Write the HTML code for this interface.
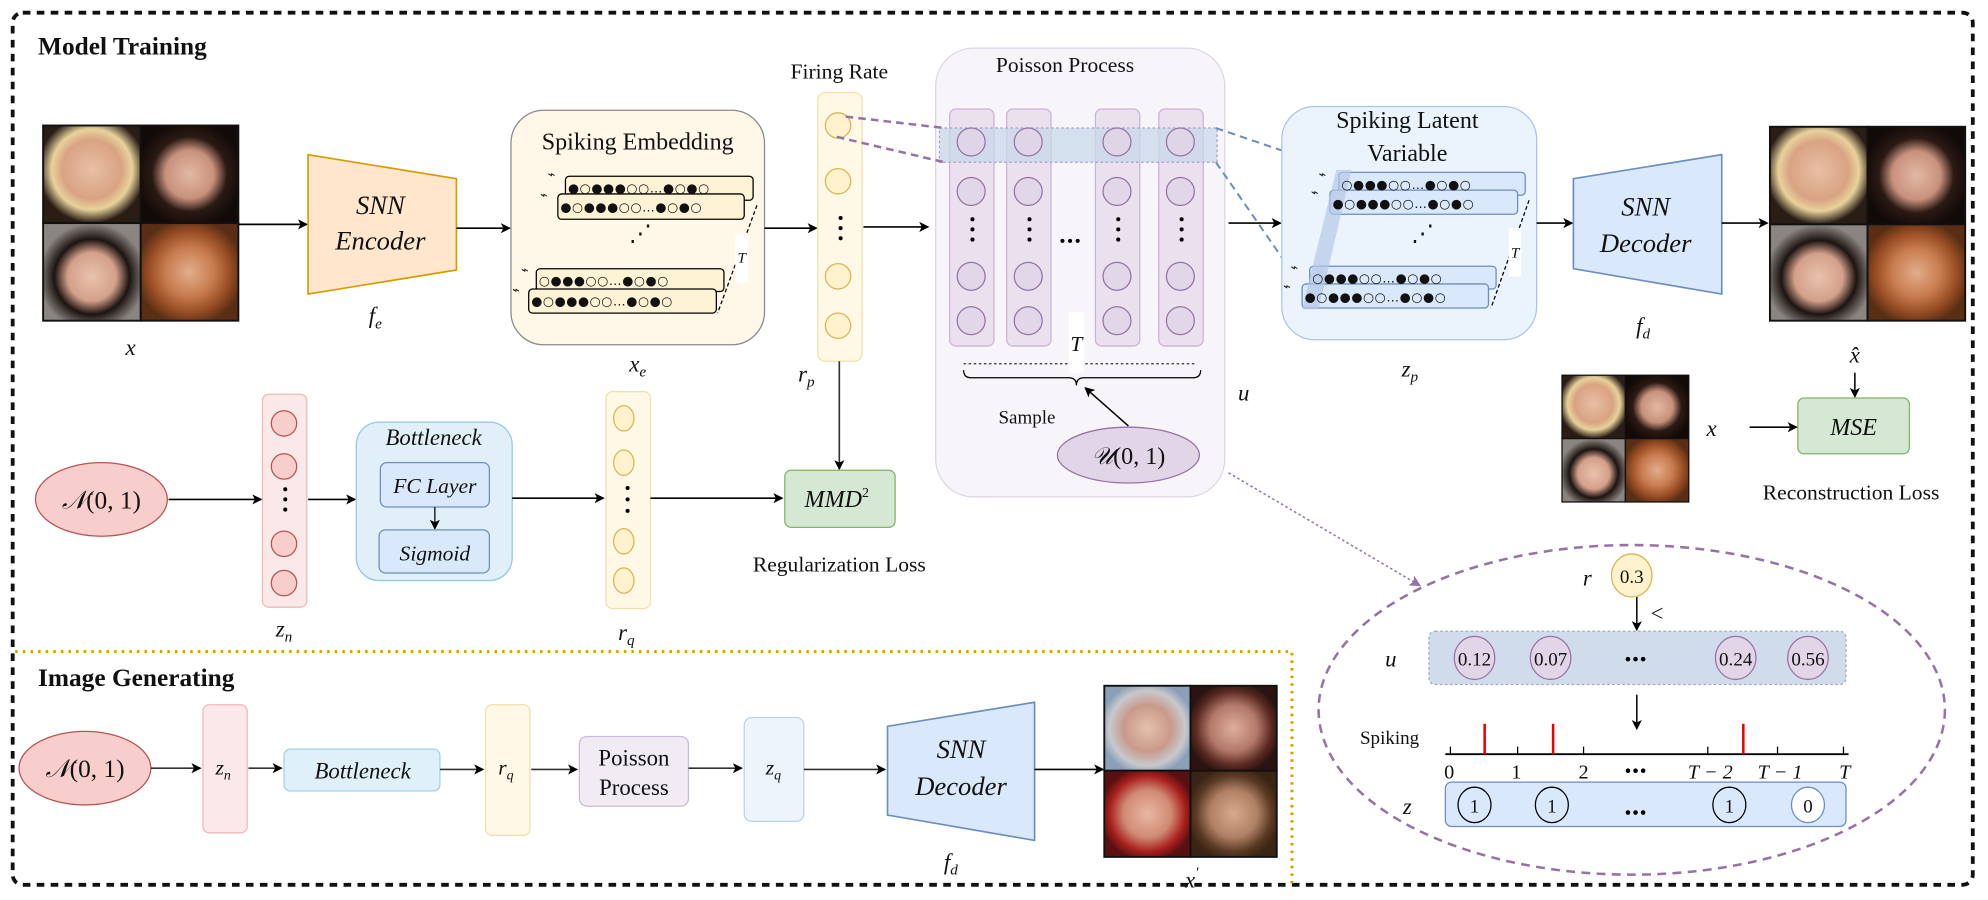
<!DOCTYPE html>
<html><head><meta charset="utf-8"><style>
html,body{margin:0;padding:0;background:#fff;}
svg{display:block;}
text{font-family:"Liberation Serif",serif;fill:#111;}
.it{font-style:italic;}
.sp{font-family:"DejaVu Sans",sans-serif;font-size:10px;letter-spacing:0.5px;}
</style></head><body>
<svg width="1988" height="900" viewBox="0 0 1568 710" preserveAspectRatio="none" xmlns="http://www.w3.org/2000/svg">
<defs>
<marker id="ar" markerWidth="8" markerHeight="8" refX="7" refY="4" orient="auto" markerUnits="userSpaceOnUse"><path d="M0,0 L8,4 L0,8 L2,4 z" fill="#000"/></marker>
<marker id="arp" markerWidth="9" markerHeight="9" refX="8" refY="4.5" orient="auto" markerUnits="userSpaceOnUse"><path d="M0,0 L9,4.5 L0,9 L2,4.5 z" fill="#9673a6"/></marker>
<radialGradient id="fA" cx="50%" cy="45%" r="55%"><stop offset="0" stop-color="#e9bfa4"/><stop offset="0.55" stop-color="#d8a383"/><stop offset="0.75" stop-color="#e8d29b"/><stop offset="1" stop-color="#2a1d16"/></radialGradient>
<radialGradient id="fB" cx="50%" cy="50%" r="55%"><stop offset="0" stop-color="#e3b8a4"/><stop offset="0.45" stop-color="#c8917c"/><stop offset="0.7" stop-color="#2b1a14"/><stop offset="1" stop-color="#120a08"/></radialGradient>
<radialGradient id="fC" cx="50%" cy="55%" r="55%"><stop offset="0" stop-color="#e9c2ad"/><stop offset="0.45" stop-color="#d4a08a"/><stop offset="0.7" stop-color="#1d1411"/><stop offset="1" stop-color="#8a8580"/></radialGradient>
<radialGradient id="fD" cx="50%" cy="50%" r="55%"><stop offset="0" stop-color="#e2ad8b"/><stop offset="0.45" stop-color="#c97c4f"/><stop offset="0.75" stop-color="#9a4e25"/><stop offset="1" stop-color="#5a2e14"/></radialGradient>
<radialGradient id="fE" cx="50%" cy="50%" r="55%"><stop offset="0" stop-color="#e5c0ad"/><stop offset="0.5" stop-color="#c99a8a"/><stop offset="0.8" stop-color="#c8c8cc"/><stop offset="1" stop-color="#8aa0b8"/></radialGradient>
<radialGradient id="fF" cx="50%" cy="50%" r="55%"><stop offset="0" stop-color="#dfae9c"/><stop offset="0.5" stop-color="#b3786a"/><stop offset="0.8" stop-color="#5a2a22"/><stop offset="1" stop-color="#2a1310"/></radialGradient>
<radialGradient id="fG" cx="50%" cy="50%" r="55%"><stop offset="0" stop-color="#e9b8a2"/><stop offset="0.5" stop-color="#d08a74"/><stop offset="0.8" stop-color="#a8201e"/><stop offset="1" stop-color="#5a1010"/></radialGradient>
<radialGradient id="fH" cx="50%" cy="50%" r="55%"><stop offset="0" stop-color="#d8aa8c"/><stop offset="0.5" stop-color="#b08065"/><stop offset="0.8" stop-color="#5a3a24"/><stop offset="1" stop-color="#3a2414"/></radialGradient>
</defs>

<rect x="10" y="10" width="1546" height="688" rx="8" fill="none" stroke="#111" stroke-width="3" stroke-dasharray="6,5"/>
<text x="30" y="43" font-size="20" font-weight="bold">Model Training</text>

<g stroke="#111" stroke-width="1.5">
<rect x="34" y="99" width="77" height="77" fill="url(#fA)"/>
<rect x="111" y="99" width="77" height="77" fill="url(#fB)"/>
<rect x="34" y="176" width="77" height="77" fill="url(#fC)"/>
<rect x="111" y="176" width="77" height="77" fill="url(#fD)"/>
</g>
<text x="103" y="280" font-size="18" class="it" text-anchor="middle">x</text>
<line x1="188" y1="177" x2="242" y2="177" stroke="#000" stroke-width="1.3" marker-end="url(#ar)"/>

<polygon points="243,122 360,141 360,213 243,232" fill="#ffe6cc" stroke="#d79b00" stroke-width="1.3"/>
<text x="300" y="169" font-size="21" class="it" text-anchor="middle">SNN</text>
<text x="300" y="197" font-size="21" class="it" text-anchor="middle">Encoder</text>
<text x="296" y="255" font-size="18" class="it" text-anchor="middle">f<tspan font-size="12" dy="4">e</tspan></text>
<line x1="360" y1="180" x2="402" y2="180" stroke="#000" stroke-width="1.3" marker-end="url(#ar)"/>

<rect x="403" y="87" width="200" height="185" rx="26" fill="#fff8e8" stroke="#8a8a8a" stroke-width="1"/>
<text x="503" y="118" font-size="19" text-anchor="middle">Spiking Embedding</text>
<g fill="#fff3d6" stroke="#000" stroke-width="1">
<rect x="446" y="139" width="148" height="19" rx="3"/>
<rect x="440" y="153" width="147" height="20" rx="3"/>
<rect x="423" y="212" width="148" height="18" rx="3"/>
<rect x="417" y="228" width="148" height="19" rx="3"/>
</g>
<text x="448" y="152" class="sp">●○●●●○○…●○●○</text>
<text x="442" y="167" class="sp">●○●●●○○…●○●○</text>
<text x="425" y="225" class="sp">○●●●○○…●○●○</text>
<text x="419" y="241" class="sp">●○●●●○○…●○●○</text>
<text x="505" y="190" font-size="18" text-anchor="middle">⋰</text>
<line x1="597" y1="162" x2="566" y2="247" stroke="#000" stroke-width="1" stroke-dasharray="3,2"/>
<rect x="580" y="185" width="10" height="38" fill="#fff"/>
<text x="585" y="207" font-size="12" class="it" text-anchor="middle">T</text>
<g fill="#999" font-size="10"><text x="432" y="141">⌁</text><text x="426" y="157">⌁</text><text x="411" y="216">⌁</text><text x="404" y="232">⌁</text></g>
<text x="503" y="293" font-size="18" class="it" text-anchor="middle">x<tspan font-size="12" dy="4">e</tspan></text>
<line x1="603" y1="180" x2="644" y2="180" stroke="#000" stroke-width="1.3" marker-end="url(#ar)"/>

<text x="662" y="62" font-size="17" text-anchor="middle">Firing Rate</text>
<rect x="645" y="73" width="35" height="212" rx="6" fill="#fff8e6" stroke="#f3dfa8"/>
<g fill="#fff2cc" stroke="#d6b656" stroke-width="1">
<ellipse cx="661" cy="99" rx="10" ry="10"/><ellipse cx="661" cy="143" rx="10" ry="10"/>
<ellipse cx="661" cy="218" rx="10" ry="10"/><ellipse cx="661" cy="257" rx="10" ry="10"/></g>
<g fill="#000"><circle cx="663" cy="172" r="1.6"/><circle cx="663" cy="180" r="1.6"/><circle cx="663" cy="188" r="1.6"/></g>
<text x="636" y="301" font-size="18" class="it" text-anchor="middle">r<tspan font-size="12" dy="4">p</tspan></text>
<line x1="681" y1="179" x2="732" y2="179" stroke="#000" stroke-width="1.3" marker-end="url(#ar)"/>
<line x1="662" y1="285" x2="662" y2="370" stroke="#333" stroke-width="1.3" marker-end="url(#ar)"/>

<rect x="738" y="38" width="228" height="354" rx="30" fill="#f8f5fa" stroke="#ddd3e6"/>
<text x="840" y="57" font-size="17" text-anchor="middle">Poisson Process</text>
<g fill="#ebe0ee" stroke="#cbb5d6">
<rect x="749" y="86" width="35" height="187" rx="5"/><rect x="794" y="86" width="35" height="187" rx="5"/>
<rect x="864" y="86" width="35" height="187" rx="5"/><rect x="914" y="86" width="35" height="187" rx="5"/></g>
<rect x="741" y="101" width="219" height="27" fill="#c8d8ea" fill-opacity="0.75" stroke="#a8a0c8" stroke-dasharray="2,2"/>
<g fill="#e1d5e7" fill-opacity="0.85" stroke="#9673a6">
<ellipse cx="766" cy="112" rx="11" ry="11"/><ellipse cx="811" cy="112" rx="11" ry="11"/><ellipse cx="881" cy="112" rx="11" ry="11"/><ellipse cx="931" cy="112" rx="11" ry="11"/>
<ellipse cx="766" cy="151" rx="11" ry="11"/><ellipse cx="811" cy="151" rx="11" ry="11"/><ellipse cx="881" cy="151" rx="11" ry="11"/><ellipse cx="931" cy="151" rx="11" ry="11"/>
<ellipse cx="766" cy="218" rx="11" ry="11"/><ellipse cx="811" cy="218" rx="11" ry="11"/><ellipse cx="881" cy="218" rx="11" ry="11"/><ellipse cx="931" cy="218" rx="11" ry="11"/>
<ellipse cx="766" cy="253" rx="11" ry="11"/><ellipse cx="811" cy="253" rx="11" ry="11"/><ellipse cx="881" cy="253" rx="11" ry="11"/><ellipse cx="931" cy="253" rx="11" ry="11"/></g>
<g fill="#000">
<circle cx="767" cy="173" r="1.6"/><circle cx="767" cy="181" r="1.6"/><circle cx="767" cy="189" r="1.6"/>
<circle cx="812" cy="173" r="1.6"/><circle cx="812" cy="181" r="1.6"/><circle cx="812" cy="189" r="1.6"/>
<circle cx="882" cy="173" r="1.6"/><circle cx="882" cy="181" r="1.6"/><circle cx="882" cy="189" r="1.6"/>
<circle cx="932" cy="173" r="1.6"/><circle cx="932" cy="181" r="1.6"/><circle cx="932" cy="189" r="1.6"/>
<circle cx="838" cy="190" r="1.6"/><circle cx="844" cy="190" r="1.6"/><circle cx="850" cy="190" r="1.6"/></g>
<line x1="760" y1="287" x2="943" y2="287" stroke="#333" stroke-dasharray="2,2"/>
<path d="M760,292 Q760,298 766,298 L843,298 Q849,298 849,304 Q849,298 855,298 L941,298 Q947,298 947,292" fill="none" stroke="#000" stroke-width="1"/>
<rect x="843" y="246" width="12" height="48" fill="#fff"/>
<text x="849" y="277" font-size="17" class="it" text-anchor="middle">T</text>
<text x="810" y="334" font-size="15" text-anchor="middle">Sample</text>
<line x1="890" y1="336" x2="856" y2="306" stroke="#000" stroke-width="1.2" marker-end="url(#ar)"/>
<ellipse cx="890" cy="359" rx="56" ry="22" fill="#e1d5e7" stroke="#9673a6"/>
<text x="890" y="366" font-size="19" text-anchor="middle"><tspan class="it">𝒰</tspan>(0, 1)</text>
<text x="981" y="316" font-size="18" class="it" text-anchor="middle">u</text>

<line x1="667" y1="92" x2="745" y2="101" stroke="#9673a6" stroke-width="2" stroke-dasharray="6,4"/>
<line x1="660" y1="108" x2="745" y2="128" stroke="#9673a6" stroke-width="2" stroke-dasharray="6,4"/>
<line x1="959" y1="101" x2="1056" y2="134" stroke="#6c8ebf" stroke-width="1.6" stroke-dasharray="6,4"/>
<line x1="959" y1="128" x2="1029" y2="229" stroke="#6c8ebf" stroke-width="1.6" stroke-dasharray="6,4"/>
<line x1="969" y1="176" x2="1010" y2="176" stroke="#000" stroke-width="1.3" marker-end="url(#ar)"/>

<rect x="1011" y="84" width="201" height="184" rx="26" fill="#ebf3fd" stroke="#a9c4eb"/>
<text x="1110" y="101" font-size="19" text-anchor="middle">Spiking Latent</text>
<text x="1110" y="127" font-size="19" text-anchor="middle">Variable</text>
<g fill="#dae8fc" stroke="#6c8ebf" stroke-width="1">
<rect x="1056" y="136" width="147" height="18" rx="3"/>
<rect x="1049" y="150" width="148" height="19" rx="3"/>
<rect x="1033" y="210" width="147" height="18" rx="3"/>
<rect x="1027" y="224" width="147" height="19" rx="3"/></g>
<polygon points="1054,134 1066,134 1040,244 1027,244" fill="#b3c8e6" fill-opacity="0.7"/>
<text x="1058" y="149" class="sp">○●●●○○…●○●○</text>
<text x="1051" y="164" class="sp">●○●●●○○…●○●○</text>
<text x="1035" y="223" class="sp">○●●●○○…●○●○</text>
<text x="1029" y="238" class="sp">●○●●●○○…●○●○</text>
<text x="1122" y="190" font-size="18" text-anchor="middle">⋰</text>
<line x1="1206" y1="158" x2="1176" y2="243" stroke="#000" stroke-width="1" stroke-dasharray="3,2"/>
<rect x="1190" y="180" width="10" height="38" fill="#fff"/>
<text x="1195" y="203" font-size="12" class="it" text-anchor="middle">T</text>
<g fill="#999" font-size="10"><text x="1040" y="141">⌁</text><text x="1034" y="155">⌁</text><text x="1018" y="214">⌁</text><text x="1012" y="229">⌁</text></g>
<text x="1112" y="297" font-size="18" class="it" text-anchor="middle">z<tspan font-size="12" dy="4">p</tspan></text>
<line x1="1212" y1="176" x2="1240" y2="176" stroke="#000" stroke-width="1.3" marker-end="url(#ar)"/>

<polygon points="1241,141 1358,122 1358,232 1241,212" fill="#dae8fc" stroke="#6c8ebf" stroke-width="1.3"/>
<text x="1298" y="170" font-size="21" class="it" text-anchor="middle">SNN</text>
<text x="1298" y="199" font-size="21" class="it" text-anchor="middle">Decoder</text>
<text x="1296" y="263" font-size="18" class="it" text-anchor="middle">f<tspan font-size="12" dy="4">d</tspan></text>
<line x1="1358" y1="176" x2="1394" y2="176" stroke="#000" stroke-width="1.3" marker-end="url(#ar)"/>
<g stroke="#111" stroke-width="1.5">
<rect x="1396" y="100" width="77" height="77" fill="url(#fA)"/>
<rect x="1473" y="100" width="77" height="77" fill="url(#fB)"/>
<rect x="1396" y="177" width="77" height="76" fill="url(#fC)"/>
<rect x="1473" y="177" width="77" height="76" fill="url(#fD)"/></g>
<text x="1463" y="286" font-size="18" class="it" text-anchor="middle">x̂</text>
<line x1="1463" y1="294" x2="1463" y2="313" stroke="#000" stroke-width="1.2" marker-end="url(#ar)"/>
<rect x="1418" y="314" width="88" height="44" rx="5" fill="#d5e8d4" stroke="#82b366"/>
<text x="1462" y="343" font-size="19" class="it" text-anchor="middle">MSE</text>
<g stroke="#111" stroke-width="1">
<rect x="1232" y="296" width="50" height="50" fill="url(#fA)"/>
<rect x="1282" y="296" width="50" height="50" fill="url(#fB)"/>
<rect x="1232" y="346" width="50" height="50" fill="url(#fC)"/>
<rect x="1282" y="346" width="50" height="50" fill="url(#fD)"/></g>
<text x="1350" y="344" font-size="18" class="it" text-anchor="middle">x</text>
<line x1="1380" y1="337" x2="1417" y2="337" stroke="#000" stroke-width="1.2" marker-end="url(#ar)"/>
<text x="1460" y="394" font-size="17" text-anchor="middle">Reconstruction  Loss</text>

<ellipse cx="80" cy="394" rx="52" ry="29" fill="#f8cecc" stroke="#b85450"/>
<text x="80" y="401" font-size="20" text-anchor="middle"><tspan class="it">𝒩</tspan>(0, 1)</text>
<line x1="133" y1="394" x2="206" y2="394" stroke="#000" stroke-width="1.3" marker-end="url(#ar)"/>
<rect x="207" y="311" width="35" height="168" rx="5" fill="#fbe8e8" stroke="#f0b8b8"/>
<g fill="#f8cecc" stroke="#b85450"><ellipse cx="224" cy="334" rx="10" ry="10"/><ellipse cx="224" cy="368" rx="10" ry="10"/><ellipse cx="224" cy="429" rx="10" ry="10"/><ellipse cx="224" cy="460" rx="10" ry="10"/></g>
<g fill="#000"><circle cx="225" cy="386" r="1.6"/><circle cx="225" cy="394" r="1.6"/><circle cx="225" cy="402" r="1.6"/></g>
<text x="224" y="502" font-size="18" class="it" text-anchor="middle">z<tspan font-size="12" dy="4">n</tspan></text>
<line x1="243" y1="394" x2="280" y2="394" stroke="#000" stroke-width="1.3" marker-end="url(#ar)"/>
<rect x="281" y="333" width="123" height="125" rx="18" fill="#e1f0f8" stroke="#93c9e2"/>
<text x="342" y="351" font-size="18" class="it" text-anchor="middle">Bottleneck</text>
<rect x="300" y="365" width="86" height="35" rx="5" fill="#dae8fc" stroke="#6c8ebf"/>
<text x="343" y="389" font-size="17" class="it" text-anchor="middle">FC Layer</text>
<line x1="343" y1="400" x2="343" y2="417" stroke="#000" stroke-width="1" marker-end="url(#ar)"/>
<rect x="299" y="418" width="87" height="34" rx="5" fill="#dae8fc" stroke="#6c8ebf"/>
<text x="343" y="442" font-size="17" class="it" text-anchor="middle">Sigmoid</text>
<line x1="404" y1="393" x2="476" y2="393" stroke="#000" stroke-width="1.3" marker-end="url(#ar)"/>
<rect x="478" y="309" width="35" height="171" rx="5" fill="#fff8e6" stroke="#f3dfa8"/>
<g fill="#fff2cc" stroke="#d6b656"><ellipse cx="492" cy="330" rx="8" ry="10"/><ellipse cx="492" cy="365" rx="8" ry="10"/><ellipse cx="492" cy="427" rx="8" ry="10"/><ellipse cx="492" cy="458" rx="8" ry="10"/></g>
<g fill="#000"><circle cx="495" cy="385" r="1.6"/><circle cx="495" cy="394" r="1.6"/><circle cx="495" cy="403" r="1.6"/></g>
<text x="494" y="505" font-size="18" class="it" text-anchor="middle">r<tspan font-size="12" dy="4">q</tspan></text>
<line x1="513" y1="393" x2="617" y2="393" stroke="#000" stroke-width="1.3" marker-end="url(#ar)"/>
<rect x="619" y="371" width="87" height="45" rx="5" fill="#d5e8d4" stroke="#82b366"/>
<text x="660" y="400" font-size="19" class="it" text-anchor="middle">MMD<tspan font-size="11" dy="-8" font-style="normal">2</tspan></text>
<text x="662" y="451" font-size="17" text-anchor="middle">Regularization  Loss</text>

<polyline points="12,514 1019,514 1019,697" fill="none" stroke="#e0a000" stroke-width="2.5" stroke-dasharray="2,4"/>
<text x="30" y="541" font-size="20" font-weight="bold">Image Generating</text>
<ellipse cx="67" cy="606" rx="52" ry="29" fill="#f8cecc" stroke="#b85450"/>
<text x="67" y="613" font-size="20" text-anchor="middle"><tspan class="it">𝒩</tspan>(0, 1)</text>
<line x1="119" y1="606" x2="158" y2="606" stroke="#333" stroke-width="1.3" marker-end="url(#ar)"/>
<rect x="160" y="556" width="35" height="101" rx="5" fill="#fbe8e8" stroke="#f0b8b8"/>
<text x="176" y="611" font-size="17" class="it" text-anchor="middle">z<tspan font-size="11" dy="4">n</tspan></text>
<line x1="196" y1="606" x2="222" y2="606" stroke="#333" stroke-width="1.3" marker-end="url(#ar)"/>
<rect x="224" y="591" width="123" height="33" rx="5" fill="#dff0f8" stroke="#9fd3e8"/>
<text x="286" y="614" font-size="18" class="it" text-anchor="middle">Bottleneck</text>
<line x1="347" y1="607" x2="381" y2="607" stroke="#333" stroke-width="1.3" marker-end="url(#ar)"/>
<rect x="383" y="556" width="35" height="103" rx="5" fill="#fff8e6" stroke="#f3dfa8"/>
<text x="399" y="611" font-size="17" class="it" text-anchor="middle">r<tspan font-size="11" dy="4">q</tspan></text>
<line x1="419" y1="607" x2="455" y2="607" stroke="#333" stroke-width="1.3" marker-end="url(#ar)"/>
<rect x="457" y="581" width="86" height="55" rx="6" fill="#f1ecf4" stroke="#cdb9d9"/>
<text x="500" y="604" font-size="18" text-anchor="middle">Poisson</text>
<text x="500" y="627" font-size="18" text-anchor="middle">Process</text>
<line x1="543" y1="606" x2="585" y2="606" stroke="#333" stroke-width="1.3" marker-end="url(#ar)"/>
<rect x="587" y="566" width="47" height="82" rx="6" fill="#eef4fc" stroke="#bcd1ee"/>
<text x="610" y="611" font-size="17" class="it" text-anchor="middle">z<tspan font-size="11" dy="4">q</tspan></text>
<line x1="634" y1="607" x2="698" y2="607" stroke="#333" stroke-width="1.3" marker-end="url(#ar)"/>
<polygon points="700,573 816,554 816,663 700,643" fill="#dae8fc" stroke="#6c8ebf" stroke-width="1.3"/>
<text x="758" y="598" font-size="21" class="it" text-anchor="middle">SNN</text>
<text x="758" y="627" font-size="21" class="it" text-anchor="middle">Decoder</text>
<text x="750" y="686" font-size="18" class="it" text-anchor="middle">f<tspan font-size="12" dy="4">d</tspan></text>
<line x1="816" y1="607" x2="870" y2="607" stroke="#000" stroke-width="1.3" marker-end="url(#ar)"/>
<g stroke="#111" stroke-width="1.5">
<rect x="871" y="541" width="68" height="67" fill="url(#fE)"/>
<rect x="939" y="541" width="68" height="67" fill="url(#fF)"/>
<rect x="871" y="608" width="68" height="68" fill="url(#fG)"/>
<rect x="939" y="608" width="68" height="68" fill="url(#fH)"/></g>
<text x="940" y="700" font-size="18" class="it" text-anchor="middle">x<tspan font-size="12" dy="-8">′</tspan></text>

<line x1="969" y1="373" x2="1120" y2="462" stroke="#9673a6" stroke-width="1.2" stroke-dasharray="2,2" marker-end="url(#arp)"/>
<ellipse cx="1287" cy="560" rx="247" ry="130" fill="none" stroke="#9673a6" stroke-width="2" stroke-dasharray="7,5"/>
<text x="1252" y="462" font-size="18" class="it" text-anchor="middle">r</text>
<ellipse cx="1287" cy="454" rx="16" ry="17" fill="#fff2cc" stroke="#d6b656"/>
<text x="1287" y="460" font-size="15" text-anchor="middle">0.3</text>
<line x1="1291" y1="471" x2="1291" y2="497" stroke="#000" stroke-width="1.2" marker-end="url(#ar)"/>
<text x="1307" y="490" font-size="18" text-anchor="middle">&lt;</text>
<text x="1097" y="526" font-size="18" class="it" text-anchor="middle">u</text>
<rect x="1127" y="498" width="329" height="42" rx="5" fill="#d0dcec" stroke="#a0aab8" stroke-dasharray="2,2"/>
<g fill="#e1d5e7" stroke="#9673a6"><ellipse cx="1163" cy="519" rx="16" ry="17"/><ellipse cx="1223" cy="519" rx="16" ry="17"/><ellipse cx="1369" cy="519" rx="16" ry="17"/><ellipse cx="1426" cy="519" rx="16" ry="17"/></g>
<g font-size="15" text-anchor="middle"><text x="1163" y="525">0.12</text><text x="1223" y="525">0.07</text><text x="1369" y="525">0.24</text><text x="1426" y="525">0.56</text></g>
<g fill="#000"><circle cx="1284" cy="520" r="1.8"/><circle cx="1290" cy="520" r="1.8"/><circle cx="1296" cy="520" r="1.8"/></g>
<line x1="1291" y1="548" x2="1291" y2="575" stroke="#000" stroke-width="1.2" marker-end="url(#ar)"/>
<text x="1096" y="587" font-size="15" text-anchor="middle">Spiking</text>
<line x1="1140" y1="595" x2="1458" y2="595" stroke="#000" stroke-width="1.5"/>
<g stroke="#000" stroke-width="1"><line x1="1144" y1="589" x2="1144" y2="595"/><line x1="1197" y1="589" x2="1197" y2="595"/><line x1="1249" y1="589" x2="1249" y2="595"/><line x1="1347" y1="589" x2="1347" y2="595"/><line x1="1402" y1="589" x2="1402" y2="595"/><line x1="1454" y1="589" x2="1454" y2="595"/></g>
<g stroke="#e00" stroke-width="2"><line x1="1171" y1="571" x2="1171" y2="595"/><line x1="1225" y1="571" x2="1225" y2="595"/><line x1="1375" y1="571" x2="1375" y2="595"/></g>
<g font-size="16" text-anchor="middle"><text x="1143" y="614">0</text><text x="1196" y="614">1</text><text x="1249" y="614">2</text><text x="1349" y="614" class="it">T − 2</text><text x="1404" y="614" class="it">T − 1</text><text x="1455" y="614" class="it">T</text></g>
<g fill="#000"><circle cx="1284" cy="608" r="1.8"/><circle cx="1290" cy="608" r="1.8"/><circle cx="1296" cy="608" r="1.8"/></g>
<text x="1110" y="642" font-size="18" class="it" text-anchor="middle">z</text>
<rect x="1140" y="617" width="316" height="35" rx="5" fill="#dae8fc" stroke="#6c8ebf"/>
<g stroke="#000" fill="#dae8fc"><ellipse cx="1163" cy="635" rx="13" ry="14"/><ellipse cx="1224" cy="635" rx="13" ry="14"/><ellipse cx="1364" cy="635" rx="13" ry="14"/></g>
<ellipse cx="1426" cy="635" rx="13" ry="14" fill="#fff" stroke="#6c8ebf"/>
<g font-size="15" text-anchor="middle"><text x="1163" y="641">1</text><text x="1224" y="641">1</text><text x="1364" y="641">1</text><text x="1426" y="641">0</text></g>
<g fill="#000"><circle cx="1284" cy="641" r="1.8"/><circle cx="1290" cy="641" r="1.8"/><circle cx="1296" cy="641" r="1.8"/></g>
</svg>
</body></html>
